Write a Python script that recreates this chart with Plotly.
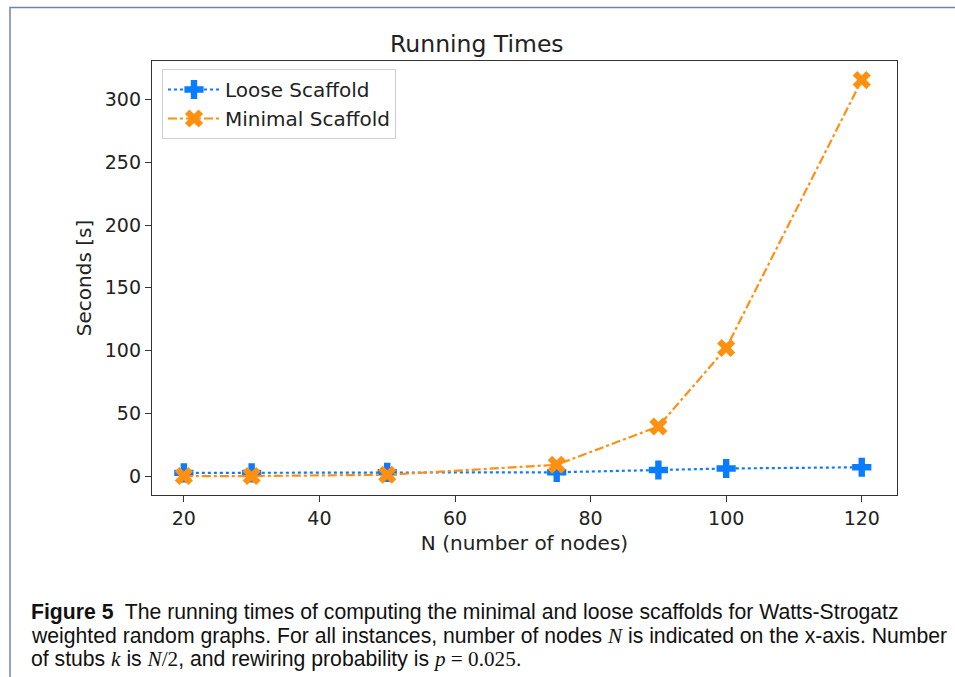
import plotly.graph_objects as go

nodes = [20, 30, 50, 75, 90, 100, 120]
loose_seconds = [2.5, 2.5, 3.0, 3.0, 4.8, 6.0, 7.0]
minimal_seconds = [0.0, 0.0, 1.0, 9.0, 39.5, 102.0, 315.5]

x_ticks = [20, 40, 60, 80, 100, 120]
y_ticks = [0, 50, 100, 150, 200, 250, 300]

BLUE = "#0a7cff"
ORANGE = "#ff9010"
FONT = "DejaVu Sans"
TXT = "#222222"

fig = go.Figure()
fig.add_trace(go.Scatter(
    x=nodes, y=loose_seconds, name="Loose Scaffold", mode="lines+markers",
    line=dict(color=BLUE, width=2.2, dash="dot"),
    marker=dict(symbol="cross", size=16, color=BLUE, line=dict(width=0)),
))
fig.add_trace(go.Scatter(
    x=nodes, y=minimal_seconds, name="Minimal Scaffold", mode="lines+markers",
    line=dict(color=ORANGE, width=2.2, dash="dashdot"),
    marker=dict(symbol="x", size=16, color=ORANGE, line=dict(width=0)),
))

L, R, T, B = 152, 58, 61, 182
W, H = 955, 677
pw = W - L - R
ph = H - T - B

def px_x(p):
    return (p - L) / pw

def px_y(p):
    return (H - B - p) / ph

axis_common = dict(
    showline=True, linecolor="#333333", linewidth=1.3, mirror=True,
    ticks="outside", ticklen=6, tickwidth=1.2, tickcolor="#333333",
    showgrid=False, zeroline=False,
    tickfont=dict(family=FONT, size=19, color=TXT),
    title_font=dict(family=FONT, size=20, color=TXT),
)

fig.update_layout(
    width=W, height=H,
    margin=dict(l=L, r=R, t=T, b=B),
    paper_bgcolor="white", plot_bgcolor="white",
    font=dict(family=FONT, color=TXT),
    title=dict(text="Running Times", x=px_x(524), xanchor="center",
               y=1 - 44 / H, yanchor="middle",
               font=dict(family=FONT, size=23.5, color=TXT)),
    xaxis=dict(range=[15.3, 125.2], tickvals=x_ticks, title_text="N (number of nodes)",
               title_standoff=8, **axis_common),
    yaxis=dict(range=[-15.1, 330.7], tickvals=y_ticks, title_text="Seconds [s]",
               title_standoff=7, **axis_common),
    legend=dict(x=px_x(162), y=px_y(69), xanchor="left", yanchor="top",
                bgcolor="rgba(255,255,255,0.8)", bordercolor="#d0d0d0", borderwidth=1,
                font=dict(family=FONT, size=20, color=TXT),
                itemwidth=52, tracegroupgap=0),
    showlegend=True,
)

fig.add_shape(type="rect", xref="paper", yref="paper",
              x0=px_x(10), x1=px_x(975), y0=px_y(700), y1=px_y(7.5),
              line=dict(color="#6f86a6", width=1.5), fillcolor="rgba(0,0,0,0)", layer="below")

MATH = "<span style='font-family:Liberation Serif'>{}</span>"
caption_lines = [
    "<b>Figure 5</b>  The running times of computing the minimal and loose scaffolds for Watts-Strogatz",
    "weighted random graphs. For all instances, number of nodes " + MATH.format("<i>N</i>")
    + " is indicated on the x-axis. Number",
    "of stubs " + MATH.format("<i>k</i>") + " is " + MATH.format("<i>N</i>/2") + ", and rewiring probability is "
    + MATH.format("<i>p</i> = 0.025") + ".",
]
caption_baselines = [619, 642.5, 666]
for line, base in zip(caption_lines, caption_baselines):
    fig.add_annotation(text=line, xref="paper", yref="paper",
                       x=px_x(29), y=px_y(base - 7), xanchor="left", yanchor="middle",
                       align="left", showarrow=False,
                       font=dict(family="Liberation Sans", size=21.2, color="#111111"))

fig.write_html("out.html", config={"displayModeBar": False},
               post_script="document.body.style.margin='0px';document.body.style.overflow='hidden';")
